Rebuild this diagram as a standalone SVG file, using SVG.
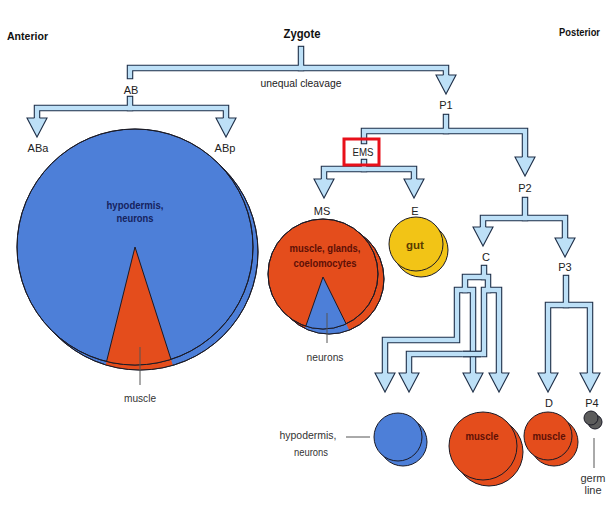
<svg xmlns="http://www.w3.org/2000/svg" xmlns:xlink="http://www.w3.org/1999/xlink" width="610" height="507" viewBox="0 0 610 507">
  <style>
    text { font-family: "Liberation Sans Narrow", "Liberation Sans", Arial, sans-serif; fill: #222; text-anchor: middle; }
    .title { font-weight: bold; fill: #111; }
    .node { font-size: 11px; }
    .note { font-size: 11px; fill: #333; }
    .in-blue { font-size: 11.5px; font-weight: bold; fill: #16235e; }
    .in-red { font-size: 11.5px; font-weight: bold; fill: #5e1006; }
    .in-yellow { font-size: 11.5px; font-weight: bold; fill: #5a3c00; }
    .tube-o { fill: none; stroke: #1f2f48; stroke-width: 6.5; stroke-linecap: square; stroke-linejoin: miter; }
    .tube-i { fill: none; stroke: #bde0f7; stroke-width: 4.3; stroke-linecap: square; stroke-linejoin: miter; }
    .cross-o { fill: none; stroke: #1f2f48; stroke-width: 6.5; }
    .cross-i { fill: none; stroke: #bde0f7; stroke-width: 4.3; }
    .head { fill: #bde0f7; stroke: #1f2f48; stroke-width: 1.1; stroke-linejoin: miter; }
    .edge { stroke: #1a1a26; stroke-width: 1; }
    .blue { fill: #4d7fd8; }
    .red { fill: #e44d1c; }
    .yellow { fill: #f2c416; }
    .grey { fill: #5c5c5c; }
    .lead { stroke: #555; stroke-width: 1; fill: none; }
  </style>
  <defs>
    <linearGradient id="rule" x1="0" y1="0" x2="1" y2="0">
      <stop offset="0" stop-color="#222"/>
      <stop offset="0.5" stop-color="#555"/>
      <stop offset="1" stop-color="#ddd" stop-opacity="0"/>
    </linearGradient>
    <!-- arrowhead: open at the top where the tube enters -->
    <path id="head" class="head" d="M2.6,0 H10 L0,19 L-10,0 H-2.6"/>
    <!-- centre lines of every lineage tube -->
    <g id="tubes">
      <path d="M301,49 V68"/>
      <path d="M130,76 V68 H446 V75"/>
      <path d="M130,99 V108"/>
      <path d="M37,118 V108 H226 V118"/>
      <path d="M446,117 V131"/>
      <path d="M364,141 V131 H525 V157"/>
      <path d="M364,162 V169"/>
      <path d="M324,179 V169 H414 V179"/>
      <path d="M525,200 V218"/>
      <path d="M483,227 V218 H565 V238"/>
      <path d="M484,268 V277"/>
      <path d="M465,290 V277 H488 V290"/>
      <path d="M385,373 V340 H457 V290 H473 V373"/>
      <path d="M409,373 V354 H484 V290 H499 V373"/>
      <path d="M566,278 V305"/>
      <path d="M548,373 V305 H590 V373"/>
    </g>
    <clipPath id="ab-back"><circle cx="140" cy="252" r="118"/></clipPath>
    <clipPath id="ab-front"><circle cx="135" cy="247" r="118"/></clipPath>
    <clipPath id="ms-back"><circle cx="329" cy="279" r="55"/></clipPath>
    <clipPath id="ms-front"><circle cx="323" cy="274" r="55"/></clipPath>
  </defs>

  <rect width="610" height="507" fill="#fff"/>
  <line x1="10" y1="12" x2="320" y2="12" stroke="url(#rule)" stroke-width="1.2"/>

  <!-- headings -->
  <text class="title" x="7" y="40" textLength="41" lengthAdjust="spacingAndGlyphs" style="font-size:11px;text-anchor:start">Anterior</text>
  <text class="title" x="302" y="38" textLength="37" lengthAdjust="spacingAndGlyphs" style="font-size:13px">Zygote</text>
  <text class="title" x="600" y="36" textLength="41" lengthAdjust="spacingAndGlyphs" style="font-size:11px;text-anchor:end">Posterior</text>
  <text class="node" x="301" y="87" textLength="81" lengthAdjust="spacingAndGlyphs" style="font-size:11.5px">unequal cleavage</text>

  <!-- connectors -->
  <g id="connectors">
    <use xlink:href="#tubes" class="tube-o"/>
    <use xlink:href="#tubes" class="tube-i"/>
    <!-- the lower C branch passes over the straight one -->
    <path class="cross-o" d="M463,354 H481"/>
    <path class="cross-i" d="M462,354 H482"/>
    <use xlink:href="#head" x="446" y="75"/>
    <use xlink:href="#head" x="37" y="118"/>
    <use xlink:href="#head" x="226" y="118"/>
    <use xlink:href="#head" x="525" y="157"/>
    <use xlink:href="#head" x="324" y="179"/>
    <use xlink:href="#head" x="414" y="179"/>
    <use xlink:href="#head" x="483" y="227"/>
    <use xlink:href="#head" x="565" y="238"/>
    <use xlink:href="#head" x="385" y="373"/>
    <use xlink:href="#head" x="409" y="373"/>
    <use xlink:href="#head" x="473" y="373"/>
    <use xlink:href="#head" x="499" y="373"/>
    <use xlink:href="#head" x="548" y="373"/>
    <use xlink:href="#head" x="590" y="373"/>
  </g>

  <!-- cell labels -->
  <g id="node-AB"><text class="node" x="131" y="94">AB</text></g>
  <g id="node-P1"><text class="node" x="446" y="109">P1</text></g>

  <g id="node-ABa-ABp">
    <text class="node" x="38" y="152">ABa</text>
    <text class="node" x="225" y="152">ABp</text>
    <circle class="blue edge" cx="140" cy="252" r="118"/>
    <polygon class="red" points="135,247 97,400 184,400" clip-path="url(#ab-back)"/>
    <circle cx="140" cy="252" r="118" fill="none" class="edge"/>
    <circle class="blue edge" cx="135" cy="247" r="118"/>
    <polygon class="red edge" points="135,247 97,400 184,400" clip-path="url(#ab-front)"/>
    <circle cx="135" cy="247" r="118" fill="none" class="edge"/>
    <text class="in-blue" x="135" y="209" textLength="57" lengthAdjust="spacingAndGlyphs">hypodermis,</text>
    <text class="in-blue" x="135" y="222" textLength="37" lengthAdjust="spacingAndGlyphs">neurons</text>
    <line class="lead" x1="140" y1="347" x2="140" y2="385"/>
    <text class="note" x="140" y="402" textLength="32" lengthAdjust="spacingAndGlyphs">muscle</text>
  </g>

  <g id="node-EMS">
    <rect x="344" y="139" width="35" height="26" fill="none" stroke="#e8101a" stroke-width="3"/>
    <text class="node" x="363" y="156" textLength="21" lengthAdjust="spacingAndGlyphs">EMS</text>
  </g>

  <g id="node-MS">
    <text class="node" x="322" y="215">MS</text>
    <circle class="red edge" cx="329" cy="279" r="55"/>
    <polygon class="blue" points="323,277 294,360 364,360" clip-path="url(#ms-back)"/>
    <circle cx="329" cy="279" r="55" fill="none" class="edge"/>
    <circle class="red edge" cx="323" cy="274" r="55"/>
    <polygon class="blue edge" points="323,277 294,360 364,360" clip-path="url(#ms-front)"/>
    <circle cx="323" cy="274" r="55" fill="none" class="edge"/>
    <text class="in-red" x="325" y="252" textLength="71" lengthAdjust="spacingAndGlyphs">muscle, glands,</text>
    <text class="in-red" x="325" y="267" textLength="63" lengthAdjust="spacingAndGlyphs">coelomocytes</text>
    <line class="lead" x1="327" y1="313" x2="327" y2="343"/>
    <text class="note" x="325" y="361" textLength="37" lengthAdjust="spacingAndGlyphs">neurons</text>
  </g>

  <g id="node-E">
    <text class="node" x="415" y="215">E</text>
    <circle class="yellow edge" cx="421" cy="250" r="27"/>
    <circle class="yellow edge" cx="416" cy="244" r="27"/>
    <text class="in-yellow" x="415" y="249">gut</text>
  </g>

  <g id="node-P2"><text class="node" x="525" y="192">P2</text></g>
  <g id="node-C"><text class="node" x="486" y="261">C</text></g>
  <g id="node-P3"><text class="node" x="565" y="271">P3</text></g>

  <g id="node-C-ectoderm">
    <circle class="blue edge" cx="403" cy="442" r="24"/>
    <circle class="blue edge" cx="398" cy="437" r="24"/>
    <line class="lead" x1="346" y1="437" x2="370" y2="437"/>
    <text class="note" x="308" y="439" textLength="57" lengthAdjust="spacingAndGlyphs">hypodermis,</text>
    <text class="note" x="311" y="456" textLength="34" lengthAdjust="spacingAndGlyphs">neurons</text>
  </g>

  <g id="node-C-muscle">
    <circle class="red edge" cx="489" cy="452" r="34"/>
    <circle class="red edge" cx="483" cy="446" r="34"/>
    <text class="in-red" x="482" y="440" textLength="33" lengthAdjust="spacingAndGlyphs">muscle</text>
  </g>

  <g id="node-D">
    <text class="node" x="549" y="407">D</text>
    <circle class="red edge" cx="554" cy="442" r="24"/>
    <circle class="red edge" cx="548" cy="436" r="24"/>
    <text class="in-red" x="549" y="440" textLength="33" lengthAdjust="spacingAndGlyphs">muscle</text>
  </g>

  <g id="node-P4">
    <text class="node" x="592" y="407">P4</text>
    <circle class="grey edge" cx="595" cy="422" r="7"/>
    <circle class="grey edge" cx="591" cy="418" r="7"/>
    <line class="lead" x1="594" y1="438" x2="594" y2="468"/>
    <text class="note" x="593" y="482">germ</text>
    <text class="note" x="593" y="494">line</text>
  </g>
</svg>
